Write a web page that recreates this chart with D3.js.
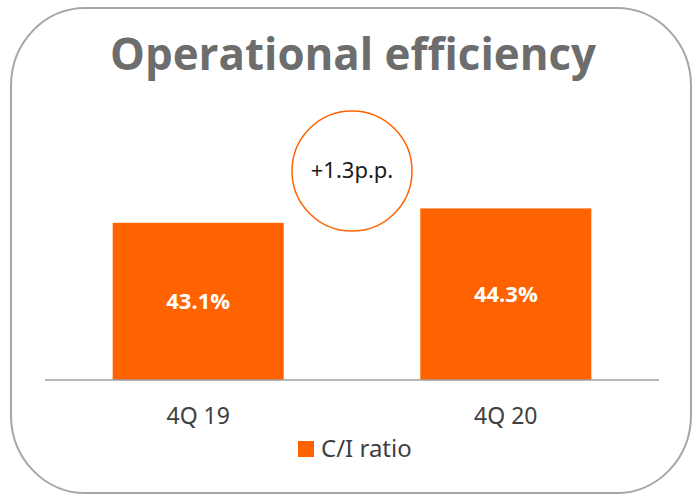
<!DOCTYPE html>
<html>
<head>
<meta charset="utf-8">
<script src="https://cdn.jsdelivr.net/npm/d3@7"></script>
<style>
  html, body { margin: 0; padding: 0; background: #ffffff; }
  svg { display: block; }
</style>
</head>
<body>
<svg id="chart" width="693" height="495"></svg>
<script>
// ---- data ----
const title = "Operational efficiency";
const categories = ["4Q 19", "4Q 20"];
const ciRatio = [43.1, 44.3];
const seriesName = "C/I ratio";
const changeLabel = "+1.3p.p.";
const yDomain = [30, 45];

// ---- drawing ----
const svg = d3.select("#chart");
const orange = "#ff6200";

// rounded frame
svg.append("rect")
  .attr("x", 11).attr("y", 8)
  .attr("width", 680).attr("height", 485)
  .attr("rx", 74).attr("ry", 78)
  .attr("fill", "none")
  .attr("stroke", "#a6a6a6")
  .attr("stroke-width", 2);

// title
const t = svg.append("text")
  .attr("x", 353).attr("y", 70)
  .attr("text-anchor", "middle")
  .attr("font-family", "'Open Sans', sans-serif")
  .attr("font-weight", 700)
  .attr("font-size", 44)
  .attr("fill", "#6d6d6d")
  .text(title);
t.attr("textLength", 486).attr("lengthAdjust", "spacingAndGlyphs");

const x = d3.scaleBand()
  .domain(categories)
  .range([45, 659])
  .paddingInner(0.444)
  .paddingOuter(0.22);

const y = d3.scaleLinear().domain(yDomain).range([380, 200]);

const data = categories.map((c, i) => ({ cat: c, value: ciRatio[i] }));

// bars
svg.append("g").selectAll("rect")
  .data(data).join("rect")
  .attr("x", d => x(d.cat))
  .attr("y", d => y(d.value))
  .attr("width", x.bandwidth())
  .attr("height", d => y(yDomain[0]) - y(d.value))
  .attr("fill", orange);

// value labels
const fmt = d3.format(".1f");
svg.append("g").selectAll("text")
  .data(data).join("text")
  .attr("x", d => x(d.cat) + x.bandwidth() / 2)
  .attr("y", d => (y(d.value) + y(yDomain[0])) / 2 + 8)
  .attr("text-anchor", "middle")
  .attr("font-family", "'Open Sans', sans-serif")
  .attr("font-weight", 700)
  .attr("font-size", 22)
  .attr("fill", "#ffffff")
  .text(d => fmt(d.value) + "%");

// baseline
svg.append("line")
  .attr("x1", x.range()[0]).attr("x2", x.range()[1])
  .attr("y1", y(yDomain[0])).attr("y2", y(yDomain[0]))
  .attr("stroke", "#a0a0a0")
  .attr("stroke-width", 1.5);

// category axis labels
const xAxis = d3.axisBottom(x).tickSize(0).tickPadding(0);
const gx = svg.append("g")
  .attr("transform", `translate(0,${y(yDomain[0])})`)
  .call(xAxis);
gx.select(".domain").remove();
gx.selectAll(".tick text")
  .attr("dy", null)
  .attr("y", 44)
  .attr("font-family", "'Noto Sans', sans-serif")
  .attr("font-size", 23)
  .attr("fill", "#404040");

// change bubble
const cx = (x(categories[0]) + x.bandwidth() + x(categories[1])) / 2;
svg.append("circle")
  .attr("cx", cx).attr("cy", 171)
  .attr("r", 60)
  .attr("fill", "#ffffff")
  .attr("stroke", orange)
  .attr("stroke-width", 1.5);
svg.append("text")
  .attr("x", cx).attr("y", 178)
  .attr("text-anchor", "middle")
  .attr("font-family", "'Noto Sans', sans-serif")
  .attr("font-size", 22)
  .attr("fill", "#1a1a1a")
  .text(changeLabel);

// legend
const lg = svg.append("g").attr("transform", "translate(298,441)");
lg.append("rect")
  .attr("width", 16).attr("height", 16)
  .attr("fill", orange);
lg.append("text")
  .attr("x", 23).attr("y", 16)
  .attr("font-family", "'Noto Sans', sans-serif")
  .attr("font-size", 24)
  .attr("fill", "#404040")
  .text(seriesName);
</script>
</body>
</html>
